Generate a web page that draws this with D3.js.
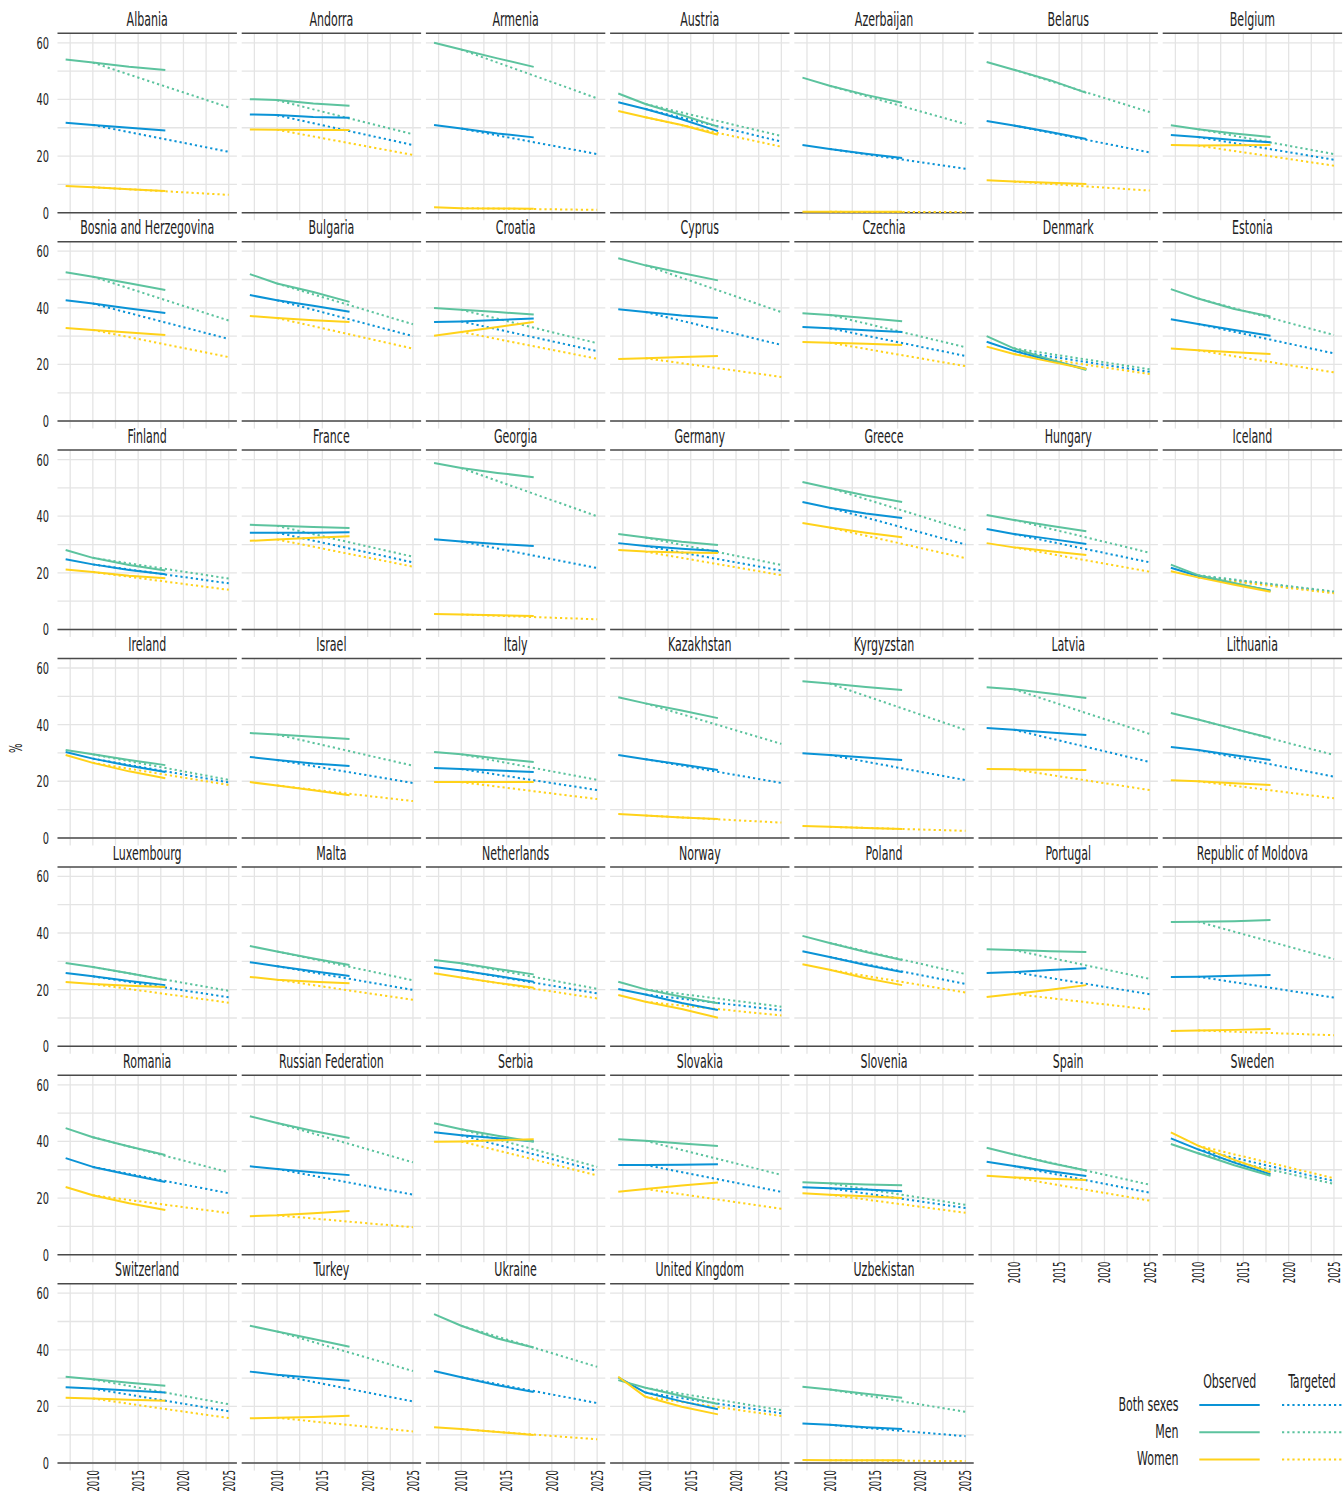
<!DOCTYPE html>
<html>
<head>
<meta charset="utf-8">
<script src="https://cdn.jsdelivr.net/npm/d3@7"></script>
<style>
  html, body { margin: 0; padding: 0; background: #fff; }
  text { font-family: 'Liberation Sans Narrow', 'DejaVu Sans Condensed', 'Liberation Sans', sans-serif; fill: #222; }
</style>
</head>
<body>
<svg id="chart"></svg>
<script>
// Tobacco-use prevalence (%) by country: observed 2007–2018 and targeted path 2010–2025
const countries = ["Albania","Andorra","Armenia","Austria","Azerbaijan","Belarus","Belgium",
  "Bosnia and Herzegovina","Bulgaria","Croatia","Cyprus","Czechia","Denmark","Estonia",
  "Finland","France","Georgia","Germany","Greece","Hungary","Iceland",
  "Ireland","Israel","Italy","Kazakhstan","Kyrgyzstan","Latvia","Lithuania",
  "Luxembourg","Malta","Netherlands","Norway","Poland","Portugal","Republic of Moldova",
  "Romania","Russian Federation","Serbia","Slovakia","Slovenia","Spain","Sweden",
  "Switzerland","Turkey","Ukraine","United Kingdom","Uzbekistan"];

const observedYears = [2007, 2010, 2014, 2018];
const targetYears = [2010, 2025];

const bothObserved = [
  [31.8,31.0,30.0,29.0],[34.7,34.5,33.8,33.5],[31.0,29.7,28.0,26.6],[39.0,36.6,33.0,28.8],[23.9,22.5,20.8,19.3],[32.4,30.8,28.5,26.0],[27.4,26.7,25.7,24.9],
  [42.7,41.5,39.8,38.2],[44.5,42.7,40.7,38.6],[35.0,35.2,35.7,36.2],[39.5,38.5,37.3,36.4],[33.2,32.8,32.1,31.5],[28.0,24.8,21.5,18.4],[36.0,34.3,32.2,30.1],
  [24.8,23.0,21.0,19.5],[34.2,34.2,34.2,34.3],[31.9,31.1,30.2,29.5],[30.5,29.5,28.5,27.7],[45.0,43.0,41.0,39.4],[35.5,33.7,32.0,30.2],[21.8,18.9,16.2,13.8],
  [30.3,28.0,25.5,23.3],[28.6,27.5,26.3,25.4],[24.7,24.3,23.8,23.3],[29.3,27.8,25.9,24.0],[29.9,29.3,28.4,27.5],[38.8,38.2,37.2,36.3],[32.1,31.0,29.2,27.5],
  [25.9,24.7,23.1,21.6],[29.7,28.3,26.5,24.8],[28.0,26.8,24.8,22.8],[20.2,18.3,15.3,12.8],[33.6,31.5,28.7,26.2],[25.9,26.2,26.9,27.6],[24.5,24.6,24.9,25.2],
  [34.1,31.0,28.2,25.7],[31.2,30.3,29.1,28.1],[43.2,42.2,41.1,40.1],[31.7,31.7,31.8,31.9],[23.8,23.5,23.0,22.4],[32.8,31.3,29.5,27.8],[41.1,37.2,32.5,28.4],
  [26.8,26.3,25.6,24.9],[32.3,31.2,30.1,29.1],[32.5,30.3,27.5,25.1],[30.3,24.9,21.8,19.0],[14.0,13.5,12.7,12.0]
];
const menObserved = [
  [54.1,53.0,51.5,50.4],[40.1,39.8,38.6,37.8],[60.0,57.6,54.5,51.5],[42.1,38.4,34.5,30.4],[47.7,44.8,41.6,38.8],[53.2,50.5,46.8,42.3],[30.9,29.5,28.0,26.7],
  [52.6,51.0,48.7,46.3],[51.9,48.6,45.6,42.1],[39.9,39.3,38.5,37.6],[57.5,55.0,52.3,49.7],[38.1,37.5,36.4,35.3],[30.0,25.7,21.8,18.0],[46.6,43.3,39.6,36.9],
  [28.1,25.3,22.8,20.8],[37.0,36.6,36.2,35.8],[58.8,57.0,55.3,53.8],[33.7,32.5,31.0,29.8],[52.1,50.0,47.3,45.0],[40.4,38.7,36.6,34.7],[22.9,19.2,16.4,13.6],
  [31.0,29.5,27.5,25.7],[37.0,36.5,35.7,34.9],[30.3,29.5,28.0,26.8],[49.7,47.5,45.0,42.3],[55.3,54.5,53.3,52.2],[53.2,52.5,51.0,49.4],[44.1,41.8,38.5,35.3],
  [29.4,28.0,25.8,23.4],[35.4,33.5,31.0,28.7],[30.5,29.3,27.3,25.4],[22.8,20.1,17.5,15.2],[39.0,36.5,33.3,30.5],[34.3,34.0,33.6,33.3],[43.9,44.0,44.2,44.6],
  [44.7,41.5,38.2,35.2],[48.9,46.5,43.7,41.2],[46.4,44.3,42.0,39.9],[40.8,40.2,39.3,38.4],[25.6,25.2,24.8,24.5],[37.8,35.4,32.4,29.7],[39.1,35.8,31.6,27.9],
  [30.5,29.6,28.4,27.3],[48.5,46.5,43.8,41.1],[52.6,48.5,44.0,40.8],[29.3,26.6,23.7,20.9],[27.0,26.0,24.5,23.1]
];
const womenObserved = [
  [9.4,9.0,8.3,7.7],[29.4,29.3,29.2,29.2],[1.9,1.6,1.5,1.4],[35.9,33.7,31.0,27.5],[0.3,0.3,0.3,0.3],[11.5,11.0,10.6,10.1],[23.9,23.7,23.8,23.9],
  [32.9,32.2,31.3,30.4],[37.1,36.4,35.6,35.0],[30.1,31.5,33.2,35.0],[21.9,22.2,22.6,23.0],[27.9,27.7,27.3,26.9],[26.3,23.7,21.0,18.4],[25.6,25.0,24.3,23.7],
  [21.2,20.3,19.0,18.1],[31.3,31.8,32.4,32.9],[5.5,5.3,5.0,4.8],[28.1,27.5,27.2,27.0],[37.6,36.0,34.2,32.6],[30.5,29.0,27.6,26.3],[20.6,18.4,15.8,13.3],
  [29.3,26.5,23.5,21.1],[19.7,18.5,16.8,15.1],[19.7,19.7,19.7,19.7],[8.4,7.9,7.2,6.7],[4.2,3.9,3.5,3.1],[24.3,24.2,24.1,24.0],[20.4,20.0,19.3,18.7],
  [22.7,22.0,21.4,20.9],[24.5,23.5,22.8,22.3],[25.8,24.3,22.4,20.7],[18.1,15.7,13.2,10.1],[29.0,27.0,24.0,21.6],[17.4,18.5,20.0,21.6],[5.4,5.6,5.8,6.1],
  [23.9,21.0,18.2,15.8],[13.6,13.9,14.6,15.4],[39.9,40.0,40.4,40.8],[22.2,23.2,24.4,25.5],[21.7,21.2,20.6,20.0],[27.9,27.3,26.8,26.4],[43.2,38.5,33.5,29.1],
  [23.1,22.8,22.4,22.0],[15.8,16.0,16.3,16.7],[12.7,12.0,11.0,9.9],[30.5,23.4,19.9,17.2],[1.1,1.0,1.0,1.0]
];

const bothTargeted = [
  [31.0,21.5],[34.4,23.9],[29.7,20.7],[36.6,25.1],[22.5,15.5],[30.8,21.3],[26.7,18.7],
  [41.5,29.0],[42.7,30.0],[35.2,24.7],[38.5,26.9],[32.8,23.0],[24.8,17.4],[34.3,23.9],
  [23.0,16.3],[34.2,23.7],[31.1,21.7],[29.5,20.8],[43.0,30.0],[33.7,23.7],[18.9,13.2],
  [28.0,19.6],[27.5,19.4],[24.3,16.9],[27.8,19.4],[29.3,20.4],[38.2,26.8],[31.0,21.6],
  [24.7,17.3],[28.3,19.9],[26.8,18.7],[18.3,12.7],[31.5,22.0],[26.2,18.4],[24.6,17.2],
  [31.0,21.7],[30.3,21.2],[42.2,29.6],[31.7,22.2],[23.5,16.5],[31.3,21.9],[37.2,26.0],
  [26.3,18.3],[31.2,21.8],[30.3,21.2],[24.9,17.6],[13.5,9.5]
];
const menTargeted = [
  [53.0,37.2],[39.7,27.7],[57.6,40.4],[38.4,27.1],[44.8,31.3],[50.5,35.5],[29.5,20.7],
  [51.0,35.5],[48.6,34.2],[39.3,27.5],[55.0,38.5],[37.5,26.1],[25.7,18.3],[43.3,30.4],
  [25.3,18.0],[36.6,25.7],[57.0,40.0],[32.5,22.8],[50.0,35.1],[38.7,27.1],[19.2,13.4],
  [29.5,20.5],[36.5,25.5],[29.5,20.5],[47.5,33.2],[54.5,38.1],[52.5,36.7],[41.8,29.3],
  [28.0,19.6],[33.5,23.3],[29.3,20.3],[20.1,14.0],[36.5,25.5],[34.0,23.8],[44.0,30.8],
  [41.5,29.1],[46.5,32.6],[44.3,31.0],[40.2,28.2],[25.2,17.6],[35.4,24.7],[35.8,25.0],
  [29.6,20.8],[46.5,32.5],[48.5,34.0],[26.6,18.7],[26.0,18.1]
];
const womenTargeted = [
  [9.0,6.3],[29.3,20.4],[1.6,1.0],[33.7,23.3],[0.3,0.2],[11.0,7.8],[23.7,16.6],
  [32.2,22.6],[36.4,25.6],[31.5,22.0],[22.2,15.6],[27.7,19.4],[23.7,16.6],[25.0,17.2],
  [20.3,14.0],[31.8,22.2],[5.3,3.6],[27.5,19.2],[36.0,25.2],[29.0,20.4],[18.4,12.8],
  [26.5,18.7],[18.5,13.0],[19.7,13.7],[7.9,5.4],[3.9,2.5],[24.2,16.9],[20.0,14.0],
  [22.0,15.4],[23.5,16.4],[24.3,16.9],[15.7,10.9],[27.0,19.0],[18.5,13.0],[5.6,3.9],
  [21.0,14.7],[13.9,9.7],[40.0,28.0],[23.2,16.2],[21.2,14.8],[27.3,19.1],[38.5,27.0],
  [22.8,15.9],[16.0,11.2],[12.0,8.4],[23.4,16.6],[1.0,0.7]
];

const seriesNames = ["Both sexes", "Men", "Women"];
const seriesColors = ["#0a93d6", "#5cc39e", "#ffd21a"];
const yTicksMajor = [0, 20, 40, 60];
const yTicksMinor = [10, 30, 50];
const xTicksMajor = [2010, 2015, 2020, 2025];
const xTicksMinor = [2007.5, 2012.5, 2017.5, 2022.5];

const series = seriesNames.map((name, k) => ({
  name,
  color: seriesColors[k],
  observed: [bothObserved, menObserved, womenObserved][k],
  targeted: [bothTargeted, menTargeted, womenTargeted][k]
}));

// Layout
const W = 1344, H = 1493;
const nCol = 7;
const left0 = 57.5, top0 = 33.3;
const panelW = 179.4, panelH = 179.4;
const colStep = 184.2, rowStep = 208.4;
const nRow = Math.ceil(countries.length / nCol);

const svg = d3.select("#chart").attr("width", W).attr("height", H);
svg.append("rect").attr("width", W).attr("height", H).attr("fill", "#fff");

// Horizontal squeeze so the installed sans renders at a condensed width
function condense(sample, fontSize, width) {
  const t = svg.append("text").attr("font-size", fontSize).text(sample);
  const w = t.node().getComputedTextLength();
  t.remove();
  return w > 0 ? width / w : 0.75;
}
const kTitle = condense("Bosnia and Herzegovina", 20, 134);
const kXTick = condense("2010", 16.5, 21.5);
const kYTick = condense("60", 16.5, 12.5);

const x = d3.scaleLinear().domain([2006.1, 2025.9]).range([0, panelW]);
const y = d3.scaleLinear().domain([0, 63.35]).range([panelH, 0]);

const lineGen = d3.line().x(d => x(d[0])).y(d => y(d[1]));

const gridColor = "#e4e4e4";
const ruleColor = "#4a4a4a";

countries.forEach((country, i) => {
  const col = i % nCol, row = Math.floor(i / nCol);
  const g = svg.append("g")
    .attr("transform", `translate(${left0 + col * colStep},${top0 + row * rowStep})`);

  // grid
  g.selectAll(".hgrid").data(yTicksMinor.concat(yTicksMajor)).join("line")
    .attr("x1", 0).attr("x2", panelW)
    .attr("y1", d => y(d)).attr("y2", d => y(d))
    .attr("stroke", gridColor).attr("stroke-width", 1.3);
  g.selectAll(".vgrid").data(xTicksMinor.concat(xTicksMajor)).join("line")
    .attr("x1", d => x(d)).attr("x2", d => x(d))
    .attr("y1", 0).attr("y2", panelH + 7.5)
    .attr("stroke", gridColor).attr("stroke-width", 1.3);

  // strip rule and baseline
  g.append("line").attr("x1", 0).attr("x2", panelW).attr("y1", 0).attr("y2", 0)
    .attr("stroke", ruleColor).attr("stroke-width", 1.5);
  g.append("line").attr("x1", 0).attr("x2", panelW).attr("y1", y(0)).attr("y2", y(0))
    .attr("stroke", ruleColor).attr("stroke-width", 1.5);

  // strip title
  g.append("text")
    .attr("transform", `translate(${panelW / 2},-7.4) scale(${kTitle},1)`)
    .attr("text-anchor", "middle")
    .attr("font-size", 20)
    .text(country);

  // targeted (dotted) lines
  series.forEach(s => {
    const pts = targetYears.map((yr, j) => [yr, s.targeted[i][j]]);
    g.append("path").attr("d", lineGen(pts))
      .attr("fill", "none").attr("stroke", s.color)
      .attr("stroke-width", 2).attr("stroke-dasharray", "2.2,3");
  });
  // observed (solid) lines
  series.forEach(s => {
    const pts = observedYears.map((yr, j) => [yr, s.observed[i][j]]);
    g.append("path").attr("d", lineGen(pts))
      .attr("fill", "none").attr("stroke", s.color)
      .attr("stroke-width", 2).attr("stroke-linejoin", "round");
  });

  // y axis labels on first column
  if (col === 0) {
    yTicksMajor.forEach(v => {
      g.append("text")
        .attr("transform", `translate(-8.5,${y(v)}) scale(${kYTick},1)`)
        .attr("text-anchor", "end").attr("dy", "0.36em")
        .attr("font-size", 16.5).attr("fill", "#333")
        .text(v);
    });
  }
  // x axis labels where no panel sits below
  if (i + nCol >= countries.length) {
    xTicksMajor.forEach(t => {
      g.append("text")
        .attr("transform", `translate(${x(t)},${panelH + 7}) rotate(-90) scale(${kXTick},1)`)
        .attr("text-anchor", "end").attr("dy", "0.36em")
        .attr("font-size", 16.5).attr("fill", "#333")
        .text(t);
    });
  }
});

// y axis title
svg.append("text")
  .attr("transform", `translate(16,${top0 + ((nRow - 1) * rowStep + panelH) / 2}) rotate(-90) scale(${kYTick},1)`)
  .attr("text-anchor", "middle").attr("dy", "0.36em")
  .attr("font-size", 17)
  .text("%");

// legend
const legend = svg.append("g");
const legendRowsY = [1405, 1432.3, 1459.6];
legend.append("text")
  .attr("transform", `translate(1229.7,1388.3) scale(${kTitle},1)`)
  .attr("text-anchor", "middle").attr("font-size", 20).text("Observed");
legend.append("text")
  .attr("transform", `translate(1312,1388.3) scale(${kTitle},1)`)
  .attr("text-anchor", "middle").attr("font-size", 20).text("Targeted");
series.forEach((s, k) => {
  legend.append("text")
    .attr("transform", `translate(1178.5,${legendRowsY[k] + 5.5}) scale(${kTitle},1)`)
    .attr("text-anchor", "end").attr("font-size", 20).text(s.name);
  legend.append("line")
    .attr("x1", 1199.3).attr("x2", 1259.7)
    .attr("y1", legendRowsY[k]).attr("y2", legendRowsY[k])
    .attr("stroke", s.color).attr("stroke-width", 2);
  legend.append("line")
    .attr("x1", 1282).attr("x2", 1344)
    .attr("y1", legendRowsY[k]).attr("y2", legendRowsY[k])
    .attr("stroke", s.color).attr("stroke-width", 2).attr("stroke-dasharray", "2.2,3");
});
</script>
</body>
</html>
